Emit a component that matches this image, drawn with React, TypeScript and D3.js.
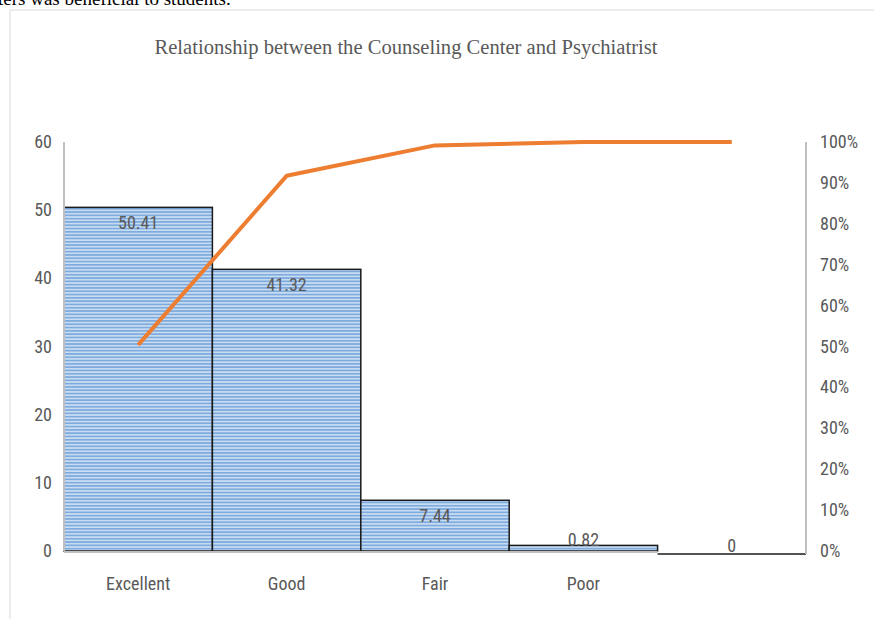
import React from "react";
import * as d3 from "d3";

const categories = ["Excellent", "Good", "Fair", "Poor", ""];
const values = [50.41, 41.32, 7.44, 0.82, 0];
const valueLabels = ["50.41", "41.32", "7.44", "0.82", "0"];
const cumulative = [50.41, 91.73, 99.17, 99.99, 100];
const leftTicks = [0, 10, 20, 30, 40, 50, 60];
const rightTicks = [0, 10, 20, 30, 40, 50, 60, 70, 80, 90, 100];

const W = 874;
const H = 619;
const left = 64;
const right = 806;
const top = 142;
const bottom = 551;

export default function App() {
  const keys = categories.map((c, i) => c + "_" + i);
  const x = d3.scaleBand<string>().domain(keys).range([left, right]).padding(0);
  const y = d3.scaleLinear().domain([0, 60]).range([bottom, top]);
  const y2 = d3.scaleLinear().domain([0, 100]).range([bottom, top]);
  const line = d3
    .line<number>()
    .x((_, i) => (x(keys[i]) as number) + x.bandwidth() / 2)
    .y((d) => y2(d));
  const font = "'Liberation Sans Narrow', 'Arial Narrow', 'Roboto Condensed', 'Open Sans', sans-serif";
  const gray = "#595959";
  return (
    <svg width={W} height={H} style={{ position: "absolute", left: 0, top: 0, background: "#fff" }}>
      <defs>
        <pattern id="stripes" width="4" height="3.3" patternUnits="userSpaceOnUse">
          <rect width="4" height="3.3" fill="#C9DEF3" />
          <rect width="4" height="1.7" y="0" fill="#7FAADD" />
        </pattern>
      </defs>
      <text x={-2} y={5} fontFamily="'Liberation Serif', 'Times New Roman', serif" fontSize={19} fill="#000">
        ters was beneficial to students.
      </text>
      <rect x={10} y={10} width={880} height={640} fill="#fff" stroke="#D9D9D9" strokeWidth={1} />
      <text
        x={406}
        y={54}
        textAnchor="middle"
        fontFamily="'Liberation Serif', 'Times New Roman', serif"
        fontSize={20}
        fill={gray}
        textLength={503}
        lengthAdjust="spacingAndGlyphs"
      >
        Relationship between the Counseling Center and  Psychiatrist
      </text>
      {values.map((v, i) => {
        const bx = x(keys[i]) as number;
        const by = y(v);
        return (
          <g key={i}>
            {v > 0 ? (
              <rect x={bx} y={by} width={x.bandwidth()} height={bottom - by} fill="url(#stripes)" stroke="#1a1a1a" strokeWidth={1.5} />
            ) : (
              <line x1={bx} x2={bx + x.bandwidth()} y1={bottom + 3} y2={bottom + 3} stroke="#1a1a1a" strokeWidth={1.5} />
            )}
          </g>
        );
      })}
      <line x1={left} x2={left} y1={top} y2={bottom} stroke="#BFBFBF" strokeWidth={2} />
      <line x1={right} x2={right} y1={top} y2={bottom + 3} stroke="#BFBFBF" strokeWidth={2} />
      <line x1={left} x2={x(keys[4]) as number} y1={bottom + 1} y2={bottom + 1} stroke="#BFBFBF" strokeWidth={2} />
      {values.map((v, i) => {
        const cx = (x(keys[i]) as number) + x.bandwidth() / 2;
        const ly = v > 2 ? y(v) + 22 : y(v) + 1;
        return (
          <text key={i} x={cx} y={ly} textAnchor="middle" fontFamily={font} fontSize={18} fill={gray}>
            {valueLabels[i]}
          </text>
        );
      })}
      <path d={line(cumulative) || ""} fill="none" stroke="#ED7D31" strokeWidth={4} strokeLinejoin="round" />
      {leftTicks.map((t) => (
        <text key={t} x={52} y={y(t) + 6} textAnchor="end" fontFamily={font} fontSize={18} fill={gray}>
          {t}
        </text>
      ))}
      {rightTicks.map((t) => (
        <text key={t} x={820} y={y2(t) + 6} textAnchor="start" fontFamily={font} fontSize={18} fill={gray}>
          {t + "%"}
        </text>
      ))}
      {categories.map((c, i) => (
        <text key={i} x={(x(keys[i]) as number) + x.bandwidth() / 2} y={590} textAnchor="middle" fontFamily={font} fontSize={18} fill={gray}>
          {c}
        </text>
      ))}
    </svg>
  );
}
